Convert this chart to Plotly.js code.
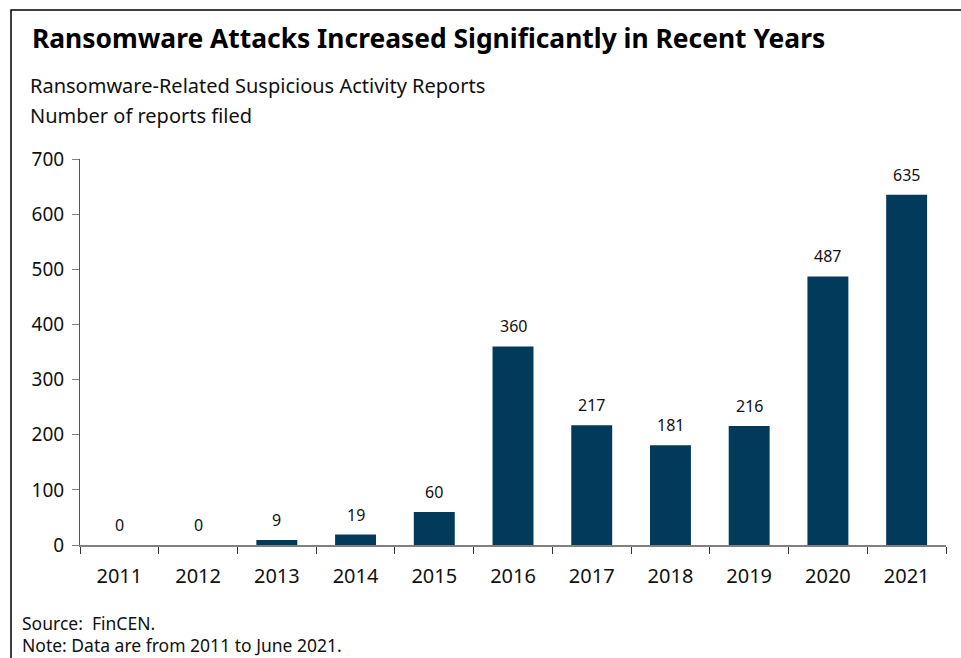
<!DOCTYPE html>
<html><head><meta charset="utf-8">
<script src="https://cdn.plot.ly/plotly-3.0.1.min.js"></script>
<style>body{margin:0;padding:0;background:#fff}#chart{width:961px;height:658px}</style>
</head><body><div id="chart"></div>
<script>
const years = ["2011","2012","2013","2014","2015","2016","2017","2018","2019","2020","2021"];
const reports = [0,0,9,19,60,360,217,181,216,487,635];
const yTicks = [0,100,200,300,400,500,600,700];

const FONT = "Noto Sans, Open Sans, sans-serif";
const trace = {
  type: "bar", x: years, y: reports,
  marker: {color: "#023a5b", line: {color: "#023a5b", width: 0}},
  hoverinfo: "none"
};
const H = 386, W = 866;
const py = (pix) => (545 - pix) / H;
const px = (pix) => (pix - 80) / W;
const valueLabels = years.map((yr, i) => ({
  x: i, y: reports[i], xref: "x", yref: "y", text: String(reports[i]),
  showarrow: false, yanchor: "bottom", yshift: 7,
  font: {family: FONT, size: 16, color: "#111"}
}));
const layout = {
  width: 961, height: 658,
  margin: {l: 80, r: 15, t: 159, b: 113},
  paper_bgcolor: "#fff", plot_bgcolor: "#fff",
  showlegend: false, bargap: 0.48,
  font: {family: FONT, color: "#111"},
  xaxis: {type: "category", range: [-0.5, 10.5], showgrid: false, zeroline: false,
    showline: true, linecolor: "#808080", linewidth: 1.5,
    ticks: "outside", tickson: "boundaries", ticklen: 7, tickcolor: "#333",
    ticklabelstandoff: 12,
    tickfont: {family: FONT, size: 20, color: "#111"}},
  yaxis: {range: [0, 700], tickvals: yTicks, ticktext: yTicks.map(String),
    showgrid: false, zeroline: false, showline: true, linecolor: "#555", linewidth: 1,
    ticks: "outside", ticklen: 7, tickcolor: "#808080", ticklabelstandoff: 4,
    tickfont: {family: FONT, size: 19, color: "#111"}},
  shapes: [
    {type: "rect", xref: "paper", yref: "paper", x0: px(11), x1: px(975), y0: py(10), y1: py(680),
     line: {color: "#000", width: 1.5}, fillcolor: "rgba(0,0,0,0)", layer: "above"}
  ],
  annotations: valueLabels.concat([
    {text: "<b>Ransomware Attacks Increased Significantly in Recent Years</b>", xref: "paper", yref: "paper",
     x: px(30), y: py(38), xanchor: "left", yanchor: "middle", showarrow: false,
     font: {family: FONT, size: 26.4, color: "#000"}},
    {text: "Ransomware-Related Suspicious Activity Reports", xref: "paper", yref: "paper",
     x: px(28), y: py(85), xanchor: "left", yanchor: "middle", showarrow: false,
     font: {family: FONT, size: 20, color: "#111"}},
    {text: "Number of reports filed", xref: "paper", yref: "paper",
     x: px(28), y: py(115), xanchor: "left", yanchor: "middle", showarrow: false,
     font: {family: FONT, size: 20, color: "#111"}},
    {text: "Source:  FinCEN.", xref: "paper", yref: "paper",
     x: px(20), y: py(623), xanchor: "left", yanchor: "middle", showarrow: false,
     font: {family: FONT, size: 17.5, color: "#111"}},
    {text: "Note: Data are from 2011 to June 2021.", xref: "paper", yref: "paper",
     x: px(20), y: py(645), xanchor: "left", yanchor: "middle", showarrow: false,
     font: {family: FONT, size: 17.5, color: "#111"}}
  ])
};
Plotly.newPlot("chart", [trace], layout, {displayModeBar: false, staticPlot: true});
</script></body></html>
